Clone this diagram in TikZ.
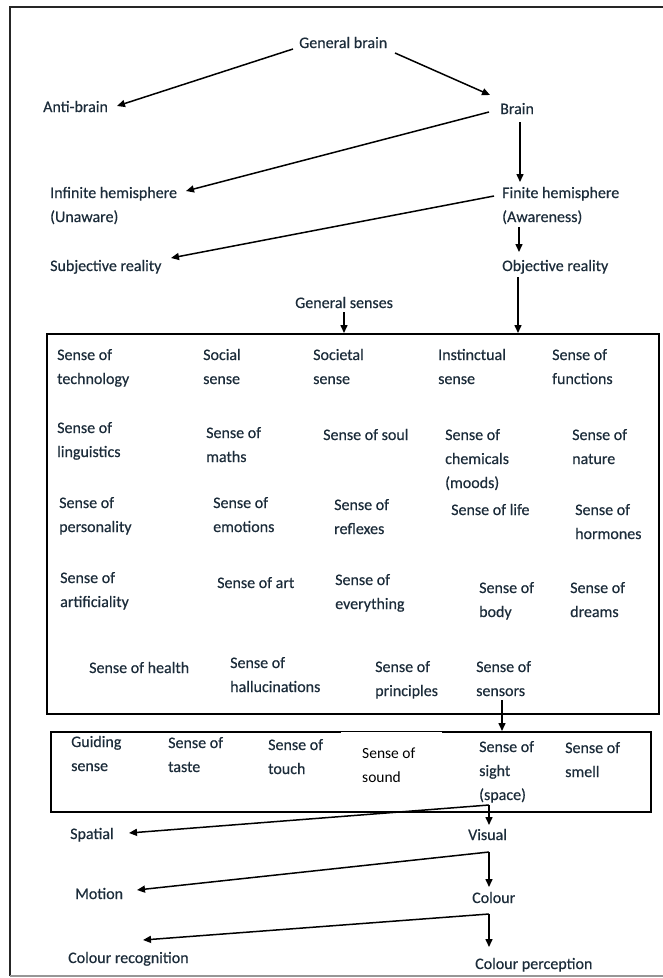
\documentclass[tikz,border=0pt]{standalone}
\usepackage{fontspec}
\setmainfont{Carlito}
\newfontfamily\lblfont{Carlito}[FakeBold=0.5]
\usetikzlibrary{arrows.meta,calc}
\definecolor{txt}{RGB}{28,44,58}
\definecolor{framegray}{RGB}{150,150,150}
\begin{document}
\begin{tikzpicture}[x=1pt,y=-1pt,
  lbl/.style={anchor=base west,inner sep=0pt,align=left,text=txt,font=\lblfont\fontsize{16}{24}\selectfont},
  plain/.style={anchor=base west,inner sep=0pt,align=left,text=black,font=\fontsize{15.5}{24}\selectfont},
  conn/.style={line width=1.5pt,-{Triangle[length=8pt,width=7pt]}},
  boxx/.style={draw,line width=1.5pt,inner sep=0pt,anchor=north west}]
\useasboundingbox (0,0) rectangle (662,978);
% outer frame
\draw[line width=2pt,black!85] (10,976) -- (10,7) -- (663,7);
\draw[line width=2pt,framegray] (10,976) -- (663,976);

% top part (multi-line nodes are placed by the baseline of their last line)
\node[lbl] (gb) at (299,48) {General brain};
\node[lbl] (anti) at (43,112) {Anti-brain};
\node[lbl] (brain) at (500,114) {Brain};
\node[lbl] (inf) at (50,222) {Infinite hemisphere\\(Unaware)};
\node[lbl] (fin) at (502,222) {Finite hemisphere\\(Awareness)};
\node[lbl] (subj) at (50,271) {Subjective reality};
\node[lbl] (obj) at (502,271) {Objective reality};
\node[lbl] (gs) at (295,308) {General senses};

% box 1
\node[boxx,minimum width=612pt,minimum height=380pt] (box1) at (46,333) {};
\node[lbl] (tech) at (57,384) {Sense of\\technology};
\node[lbl] (social) at (203,384) {Social\\sense};
\node[lbl] (societal) at (313,384) {Societal\\sense};
\node[lbl] (instinct) at (438,384) {Instinctual\\sense};
\node[lbl] (functions) at (552,384) {Sense of\\functions};

\node[lbl] (ling) at (57,457) {Sense of\\linguistics};
\node[lbl] (maths) at (206,462) {Sense of\\maths};
\node[lbl] (soul) at (323,440) {Sense of soul};
\node[lbl] (chem) at (445,488) {Sense of\\chemicals\\(moods)};
\node[lbl] (nature) at (572,464) {Sense of\\nature};

\node[lbl] (pers) at (59,532) {Sense of\\personality};
\node[lbl] (emot) at (213,532) {Sense of\\emotions};
\node[lbl] (refl) at (334,534) {Sense of\\reflexes};
\node[lbl] (life) at (451,515) {Sense of life};
\node[lbl] (horm) at (575,539) {Sense of\\hormones};

\node[lbl] (artif) at (60,607) {Sense of\\artificiality};
\node[lbl] (art) at (217,588) {Sense of art};
\node[lbl] (every) at (335,609) {Sense of\\everything};
\node[lbl] (body) at (479,617) {Sense of\\body};
\node[lbl] (dreams) at (570,617) {Sense of\\dreams};

\node[lbl] (health) at (89,673) {Sense of health};
\node[lbl] (halluc) at (230,692) {Sense of\\hallucinations};
\node[lbl] (princ) at (375,696) {Sense of\\principles};
\node[lbl] (sensors) at (476,696) {Sense of\\sensors};

% box 2
\node[boxx,minimum width=600pt,minimum height=80pt] (box2) at (50,731) {};
\node[lbl] (guiding) at (71,771) {Guiding\\sense};
\node[lbl] (taste) at (168,772) {Sense of\\taste};
\node[lbl] (touch) at (268,774) {Sense of\\touch};
\fill[white] (341,732) rectangle (442,807);
\node[plain] (sound) at (362,782) {Sense of\\sound};
\node[lbl] (sight) at (479,800) {Sense of\\sight\\(space)};
\node[lbl] (smell) at (565,777) {Sense of\\smell};

% bottom part
\node[lbl] (spatial) at (70,839) {Spatial};
\node[lbl] (visual) at (468,840) {Visual};
\node[lbl] (motion) at (75,899) {Motion};
\node[lbl] (colour) at (472,903) {Colour};
\node[lbl] (colrec) at (68,963) {Colour recognition};
\node[lbl] (colperc) at (475,969) {Colour perception};

% connectors
\draw[conn] ($(gb.base west)+(-6,1)$) -- ($(anti.base west)+(74,-6)$);
\draw[conn] ($(gb.base west)+(96,5)$) -- ($(brain.base west)+(-10,-19)$);
\draw[conn] ($(brain.base west)+(-11,-2)$) -- ($(inf.base west)+(136,-31)$);
\draw[conn] ($(brain.base west)+(20,8)$) -- ($(fin.base west)+(18,-40)$);
\draw[conn] ($(fin.base west)+(-8,-26)$) -- ($(subj.base west)+(121,-13)$);
\draw[conn] ($(fin.base west)+(17,5)$) -- ($(obj.base west)+(17,-19)$);
\draw[conn] ($(obj.base west)+(16,6)$) -- ($(box1.north west)+(472,0)$);
\draw[conn] ($(gs.base west)+(49,4)$) -- ($(box1.north west)+(298,0)$);
\draw[conn] ($(sensors.base west)+(26,4)$) -- ($(box2.north west)+(452,0)$);

\coordinate (c1) at ($(sight.base west)+(10,5)$);
\draw[conn] (c1) -- ($(spatial.base west)+(59,-6)$);
\draw[conn] (c1) -- ($(visual.base west)+(21,-15)$);
\coordinate (c2) at ($(visual.base west)+(21,12)$);
\draw[conn] (c2) -- ($(motion.base west)+(62,-9)$);
\draw[conn] (c2) -- ($(colour.base west)+(17,-16)$);
\coordinate (c3) at ($(colour.base west)+(17,11)$);
\draw[conn] (c3) -- ($(colrec.base west)+(75,-23)$);
\draw[conn] (c3) -- ($(colperc.base west)+(14,-22)$);
\end{tikzpicture}
\end{document}
